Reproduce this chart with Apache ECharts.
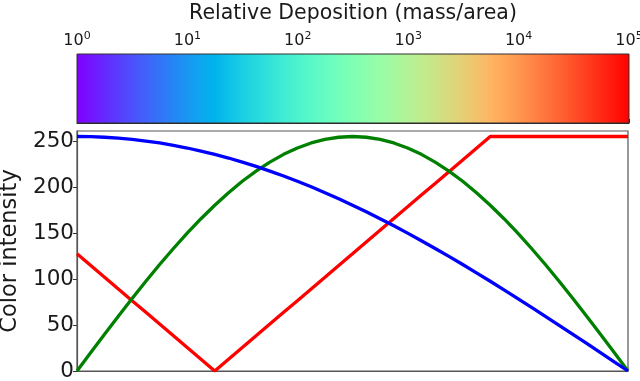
<!DOCTYPE html>
<html>
<head>
<meta charset="utf-8">
<script src="https://cdn.jsdelivr.net/npm/echarts@6/dist/echarts.min.js"></script>
<style>
html,body{margin:0;padding:0;background:#fff;}
#chart{width:640px;height:381px;}
</style>
</head>
<body>
<div id="chart"></div>
<script>
// Normalised colormap position (0..1)
const positions = [0,0.025,0.05,0.075,0.1,0.125,0.15,0.175,0.2,0.225,0.25,0.275,0.3,0.325,0.35,0.375,0.4,0.425,0.45,0.475,0.5,0.525,0.55,0.575,0.6,0.625,0.65,0.675,0.7,0.725,0.75,0.775,0.8,0.825,0.85,0.875,0.9,0.925,0.95,0.975,1];
// Colour channel intensities
const redValues = [127.5,114.8,102,89.3,76.5,63.8,51,38.3,25.5,12.8,0,12.8,25.5,38.3,51,63.8,76.5,89.3,102,114.8,127.5,140.3,153,165.8,178.5,191.3,204,216.8,229.5,242.3,255,255,255,255,255,255,255,255,255,255,255];
const greenValues = [0,20,39.9,59.5,78.8,97.6,115.8,133.2,149.9,165.6,180.3,193.9,206.3,217.4,227.2,235.6,242.5,248,251.9,254.2,255,254.2,251.9,248,242.5,235.6,227.2,217.4,206.3,193.9,180.3,165.6,149.9,133.2,115.8,97.6,78.8,59.5,39.9,20,0];
const blueValues = [255,254.8,254.2,253.2,251.9,250.1,248,245.4,242.5,239.2,235.6,231.6,227.2,222.5,217.4,212,206.3,200.3,193.9,187.3,180.3,173.1,165.6,157.9,149.9,141.7,133.2,124.6,115.8,106.8,97.6,88.3,78.8,69.2,59.5,49.7,39.9,30,20,10,0];
// Colorbar range and tick labels
const colorbarRange = [1, 100000];
const colorbarTickBase = '10';
const colorbarTickExponents = ['0','1','2','3','4','5'];
const yTicks = [0,50,100,150,200,250];
const titleText = 'Relative Deposition (mass/area)';
const yAxisTitle = 'Color intensity';

const FONT = 'DejaVu Sans';
const stops = positions.map((p, i) => ({
  offset: p,
  color: 'rgb(' + Math.round(redValues[i]) + ',' + Math.round(greenValues[i]) + ',' + Math.round(blueValues[i]) + ')'
}));
const pairs = arr => positions.map((p, i) => [p, arr[i]]);

const chart = echarts.init(document.getElementById('chart'), null, {renderer: 'canvas'});
chart.setOption({
  animation: false,
  backgroundColor: '#fff',
  grid: [
    {left: 77, right: 11, top: 54, height: 69, show: false, outerBoundsMode: 'none', containLabel: false},
    {left: 77, right: 12, top: 131, bottom: 10, show: true, borderColor: '#555', borderWidth: 1.2, outerBoundsMode: 'none', containLabel: false}
  ],
  xAxis: [
    {
      gridIndex: 0, type: 'log', logBase: 10, position: 'top',
      min: colorbarRange[0], max: colorbarRange[1],
      name: titleText, nameLocation: 'middle', nameGap: 30,
      nameTextStyle: {fontFamily: FONT, fontSize: 20.5, color: '#1a1a1a'},
      axisLine: {show: true, lineStyle: {color: '#222', width: 1}},
      axisTick: {show: true, length: 4, inside: false, lineStyle: {color: '#222'}},
      splitLine: {show: false},
      axisLabel: {
        margin: 3,
        formatter: v => {
          const e = colorbarTickExponents[Math.round(Math.log10(v))];
          return '{b|' + colorbarTickBase + '}{s|' + e + '}';
        },
        rich: {
          b: {fontFamily: FONT, fontSize: 16, color: '#1a1a1a'},
          s: {fontFamily: FONT, fontSize: 11, color: '#1a1a1a', padding: [0, 0, 9, 0]}
        }
      }
    },
    {
      gridIndex: 1, type: 'value', min: 0, max: 1,
      axisLine: {show: true, lineStyle: {color: '#555', width: 1.2}},
      axisTick: {show: false}, axisLabel: {show: false}, splitLine: {show: false}
    }
  ],
  yAxis: [
    {gridIndex: 0, type: 'value', min: 0, max: 1, show: false},
    {
      gridIndex: 1, type: 'value', min: yTicks[0], max: 261, interval: 50,
      name: yAxisTitle, nameLocation: 'middle', nameGap: 53,
      nameTextStyle: {fontFamily: FONT, fontSize: 22.5, color: '#1a1a1a'},
      axisLine: {show: true, lineStyle: {color: '#555', width: 1.2}},
      axisTick: {show: true, length: 4, lineStyle: {color: '#333'}},
      splitLine: {show: false},
      axisLabel: {
        margin: 3, showMaxLabel: false,
        fontFamily: FONT, fontSize: 21.5, color: '#1a1a1a',
        formatter: v => (yTicks.indexOf(v) >= 0 ? String(v) : '')
      }
    }
  ],
  series: [
    {
      type: 'custom', xAxisIndex: 0, yAxisIndex: 0,
      data: [[colorbarRange[0], 0, colorbarRange[1], 1]],
      encode: {x: [0, 2], y: [1, 3]},
      renderItem: (params, api) => {
        const p0 = api.coord([api.value(0), api.value(3)]);
        const p1 = api.coord([api.value(2), api.value(1)]);
        return {
          type: 'rect',
          shape: {x: p0[0], y: p0[1], width: p1[0] - p0[0], height: p1[1] - p0[1]},
          style: {
            fill: new echarts.graphic.LinearGradient(0, 0, 1, 0, stops),
            stroke: '#333', lineWidth: 1
          }
        };
      }
    },
    {type: 'line', xAxisIndex: 1, yAxisIndex: 1, data: pairs(redValues), showSymbol: false,
     lineStyle: {color: '#ff0000', width: 3.3}, itemStyle: {color: '#ff0000'}},
    {type: 'line', xAxisIndex: 1, yAxisIndex: 1, data: pairs(greenValues), showSymbol: false,
     lineStyle: {color: '#008000', width: 3.3}, itemStyle: {color: '#008000'}},
    {type: 'line', xAxisIndex: 1, yAxisIndex: 1, data: pairs(blueValues), showSymbol: false,
     lineStyle: {color: '#0000ff', width: 3.3}, itemStyle: {color: '#0000ff'}}
  ]
});
</script>
</body>
</html>
